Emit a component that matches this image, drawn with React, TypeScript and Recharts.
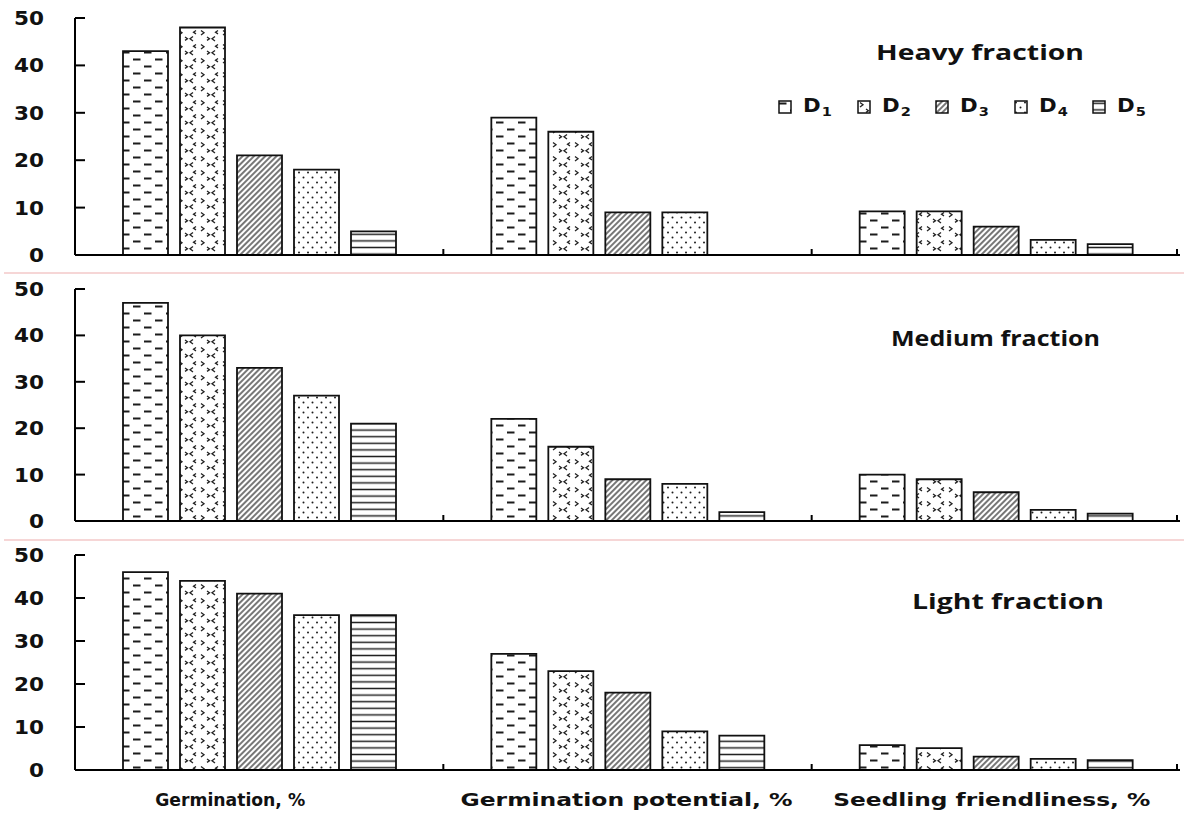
import React from "react";
import { BarChart, Bar, XAxis, YAxis, Legend } from "recharts";

const categories = ["Germination, %", "Germination potential, %", "Seedling friendliness, %"];
const doses = ["D1", "D2", "D3", "D4", "D5"];
const yTicks = [0, 10, 20, 30, 40, 50];

// one value per dose, D1..D5
const heavyGermination = [43, 48, 21, 18, 5];
const heavyPotential = [29, 26, 9, 9, 0];
const heavyFriendliness = [9.2, 9.2, 6, 3.2, 2.3];

const mediumGermination = [47, 40, 33, 27, 21];
const mediumPotential = [22, 16, 9, 8, 1.9];
const mediumFriendliness = [10, 9, 6.2, 2.4, 1.6];

const lightGermination = [46, 44, 41, 36, 36];
const lightPotential = [27, 23, 18, 9, 8];
const lightFriendliness = [5.8, 5.1, 3.1, 2.6, 2.3];

function toRows(groups: number[][]) {
  return categories.map((category, i) => {
    const row: Record<string, string | number> = { category };
    doses.forEach((d, j) => {
      row[d] = groups[i][j];
    });
    return row;
  });
}

const heavyRows = toRows([heavyGermination, heavyPotential, heavyFriendliness]);
const mediumRows = toRows([mediumGermination, mediumPotential, mediumFriendliness]);
const lightRows = toRows([lightGermination, lightPotential, lightFriendliness]);

const W = 1184;
const AXIS_X = 75;
const BAND = (1180 - AXIS_X) / categories.length;
// category label placement under the bottom panel
const labelDx = [-29, -1, -4];
const labelWidth = [150, 332, 317];

const tickFont = { fontFamily: "DejaVu Sans", fontWeight: 700, fill: "#111" };

function Patterns() {
  return (
    <svg width={0} height={0} style={{ position: "absolute" }}>
      <defs>
        <pattern id="pat-D1" width={22} height={14} patternUnits="userSpaceOnUse">
          <rect width={22} height={14} fill="#fff" />
          <path d="M1 3.5h7.5M12 10.5h7.5" stroke="#1c1c1c" strokeWidth={1.8} />
        </pattern>
        <pattern id="pat-D2" width={22} height={14} patternUnits="userSpaceOnUse">
          <rect width={22} height={14} fill="#fff" />
          <path d="M3 2.5l3 2.2-3 2.2M17 8.5l-3 2.2 3 2.2M9 9l2.5 1.7-2.5 1.7M20 2.5l-2.5 1.7 2.5 1.7" stroke="#222" strokeWidth={1.3} fill="none" />
        </pattern>
        <pattern id="pat-D3" width={4} height={4} patternUnits="userSpaceOnUse" patternTransform="rotate(45)">
          <rect width={4} height={4} fill="#fff" />
          <line x1={2} y1={0} x2={2} y2={4} stroke="#1c1c1c" strokeWidth={1.2} />
        </pattern>
        <pattern id="pat-D4" width={9} height={10} patternUnits="userSpaceOnUse">
          <rect width={9} height={10} fill="#fff" />
          <circle cx={2} cy={2.5} r={1} fill="#1c1c1c" />
          <circle cx={6.5} cy={7.5} r={1} fill="#1c1c1c" />
        </pattern>
        <pattern id="pat-D5" width={8} height={6.6} patternUnits="userSpaceOnUse">
          <rect width={8} height={6.6} fill="#fff" />
          <line x1={0} y1={3.3} x2={8} y2={3.3} stroke="#222" strokeWidth={1.5} />
        </pattern>
      </defs>
    </svg>
  );
}

function YTick(props: any) {
  const { y, payload } = props;
  const label = String(payload.value);
  return (
    <g>
      <line x1={AXIS_X} x2={AXIS_X + 10} y1={y} y2={y} stroke="#000" strokeWidth={2} />
      <text
        x={44}
        y={y}
        textAnchor="end"
        dominantBaseline="central"
        fontSize={19}
        textLength={label.length * 15}
        lengthAdjust="spacingAndGlyphs"
        {...tickFont}
      >
        {label}
      </text>
    </g>
  );
}

function XTick(props: any) {
  const { x, index, payload, axisY, showLabel } = props;
  const edge = x + BAND / 2 - (index === categories.length - 1 ? 3 : 0);
  return (
    <g>
      <line x1={edge} x2={edge} y1={axisY} y2={axisY - 6} stroke="#000" strokeWidth={2} />
      {showLabel && (
        <text
          x={x + labelDx[index]}
          y={axisY + 36}
          textAnchor="middle"
          fontSize={17}
          textLength={labelWidth[index]}
          lengthAdjust="spacingAndGlyphs"
          {...tickFont}
        >
          {payload.value}
        </text>
      )}
    </g>
  );
}

function LegendContent(props: any) {
  const payload = props.payload || [];
  return (
    <div style={{ display: "flex", fontFamily: "DejaVu Sans", fontWeight: 700, color: "#111" }}>
      {payload.map((entry: any) => (
        <div key={entry.value} style={{ width: 78.5, display: "flex", alignItems: "center" }}>
          <svg width={14} height={14}>
            <rect x={1} y={1} width={12} height={12} fill={`url(#pat-${entry.dataKey})`} stroke="#111" strokeWidth={1.5} />
          </svg>
          <span style={{ marginLeft: 11, fontSize: 19, lineHeight: "19px", display: "inline-block", transform: "scaleX(1.12)", transformOrigin: "left" }}>
            D<span style={{ fontSize: 13, position: "relative", top: 4, marginLeft: 1 }}>{String(entry.value).slice(1)}</span>
          </span>
        </div>
      ))}
    </div>
  );
}

type PanelProps = {
  rows: Record<string, string | number>[];
  top: number;
  height: number;
  plotTop: number;
  plotBottom: number;
  showLabels?: boolean;
  legend?: boolean;
};

function Panel({ rows, top, height, plotTop, plotBottom, showLabels, legend }: PanelProps) {
  return (
    <div style={{ position: "absolute", left: 0, top }}>
      <BarChart
        width={W}
        height={height}
        data={rows}
        margin={{ top: plotTop, right: W - 1180, bottom: 0, left: 0 }}
        barSize={45}
        barGap={12}
      >
        <XAxis
          dataKey="category"
          height={height - plotBottom}
          interval={0}
          axisLine={{ stroke: "#000", strokeWidth: 2 }}
          tickLine={false}
          tick={(p: any) => <XTick {...p} axisY={plotBottom} showLabel={showLabels} />}
        />
        <YAxis
          width={AXIS_X}
          domain={[0, 50]}
          ticks={yTicks}
          interval={0}
          axisLine={{ stroke: "#000", strokeWidth: 2 }}
          tickLine={false}
          tick={<YTick />}
        />
        {doses.map((d) => (
          <Bar
            key={d}
            dataKey={d}
            name={d}
            fill={`url(#pat-${d})`}
            stroke="#111"
            strokeWidth={1.8}
            isAnimationActive={false}
          />
        ))}
        {legend && (
          <Legend
            layout="horizontal"
            verticalAlign="middle"
            align="center"
            width={400}
            wrapperStyle={{ left: 778, top: 96, width: 400 }}
            content={<LegendContent />}
          />
        )}
      </BarChart>
    </div>
  );
}

const titleStyle = { fontFamily: "Open Sans", fontWeight: 700, fontSize: 21, fill: "#111" };

export default function App() {
  return (
    <div style={{ position: "absolute", left: 0, top: 0, width: W, height: 814, background: "#fff" }}>
      <Patterns />
      <Panel rows={heavyRows} top={0} height={270} plotTop={18} plotBottom={255} legend />
      <Panel rows={mediumRows} top={275} height={260} plotTop={14} plotBottom={246} />
      <Panel rows={lightRows} top={540} height={274} plotTop={15} plotBottom={230} showLabels />
      <div style={{ position: "absolute", left: 4, top: 272, width: 1180, height: 2, background: "#f6d6d6" }} />
      <div style={{ position: "absolute", left: 4, top: 539, width: 1180, height: 2, background: "#f6d6d6" }} />
      <svg width={W} height={814} style={{ position: "absolute", left: 0, top: 0, pointerEvents: "none" }}>
        <text x={876} y={60} textLength={208} lengthAdjust="spacingAndGlyphs" {...titleStyle}>
          Heavy fraction
        </text>
        <text x={891} y={346} textLength={209} lengthAdjust="spacingAndGlyphs" {...titleStyle}>
          Medium fraction
        </text>
        <text x={912} y={609} textLength={192} lengthAdjust="spacingAndGlyphs" {...titleStyle}>
          Light fraction
        </text>
      </svg>
    </div>
  );
}
